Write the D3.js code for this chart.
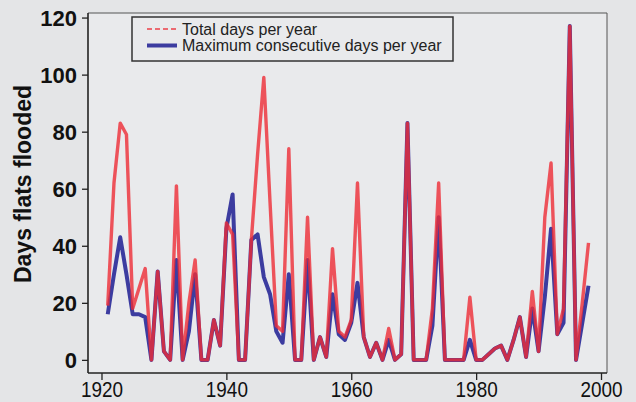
<!DOCTYPE html>
<html>
<head>
<meta charset="utf-8">
<script src="https://cdn.jsdelivr.net/npm/d3@7"></script>
<style>
  html, body { margin: 0; padding: 0; background: #e4e5e7; }
  svg { display: block; }
</style>
</head>
<body>
<svg id="chart" width="636" height="402"></svg>
<script>
const years = [1921,1922,1923,1924,1925,1926,1927,1928,1929,1930,
  1931,1932,1933,1934,1935,1936,1937,1938,1939,1940,
  1941,1942,1943,1944,1945,1946,1947,1948,1949,1950,
  1951,1952,1953,1954,1955,1956,1957,1958,1959,1960,
  1961,1962,1963,1964,1965,1966,1967,1968,1969,1970,
  1971,1972,1973,1974,1975,1976,1977,1978,1979,1980,
  1981,1982,1983,1984,1985,1986,1987,1988,1989,1990,
  1991,1992,1993,1994,1995,1996,1997,1998];

const totalDays = [19,62,83,79,18,25,32,0,31,3,
  0,61,0,20,35,0,0,14,5,48,
  44,0,0,42,72,99,55,12,10,74,
  0,0,50,0,8,1,39,10,8,14,
  62,8,1,6,0,11,0,2,83,0,
  0,0,18,62,0,0,0,0,22,0,
  0,2,4,5,0,7,15,1,24,3,
  50,69,9,18,117,0,20,41];

const maxConsecutive = [16,30,43,30,16,16,15,0,31,3,
  0,35,0,10,30,0,0,14,5,46,
  58,0,0,42,44,29,23,10,6,30,
  0,0,35,0,8,1,23,9,7,13,
  27,8,1,6,0,7,0,2,83,0,
  0,0,12,50,0,0,0,0,7,0,
  0,2,4,5,0,7,15,1,18,3,
  22,46,9,13,117,0,13,26];

const xTicks = [1920, 1940, 1960, 1980, 2000];
const yTicks = [0, 20, 40, 60, 80, 100, 120];
const seriesNames = ["Total days per year", "Maximum consecutive days per year"];
const yTitle = "Days flats flooded";

const svg = d3.select("#chart");
const L = 88, R = 607, T = 13, B = 373;
const FONT = "Liberation Sans, Arial, sans-serif";

const x = d3.scaleLinear().domain([1917.84, 2000.96]).range([L, R]);
const y = d3.scaleLinear().domain([-4.6, 121.6]).range([B, T]);

// plot background
svg.append("rect").attr("x", L).attr("y", T).attr("width", R - L).attr("height", B - T)
  .attr("fill", "#e9eaec");

// lines
const blueData = years.map((yr, i) => [yr, maxConsecutive[i]]);
const redData = years.map((yr, i) => [yr, totalDays[i]]);
const line = d3.line().x(d => x(d[0])).y(d => y(d[1]));

svg.append("path").datum(blueData).attr("d", line)
  .attr("fill", "none").attr("stroke", "#3c3ca0").attr("stroke-width", 4)
  .attr("stroke-linejoin", "round");
svg.append("path").datum(redData).attr("d", line)
  .attr("fill", "none").attr("stroke", "#ee2c36").attr("stroke-width", 3.4)
  .attr("stroke-opacity", 0.8).attr("stroke-linejoin", "round");

// frame
svg.append("line").attr("x1", L).attr("x2", R).attr("y1", T).attr("y2", T).attr("stroke", "#555").attr("stroke-width", 1);
svg.append("line").attr("x1", R).attr("x2", R).attr("y1", T).attr("y2", B).attr("stroke", "#555").attr("stroke-width", 1);
svg.append("line").attr("x1", L).attr("x2", R).attr("y1", B).attr("y2", B).attr("stroke", "#222").attr("stroke-width", 1.6);
svg.append("line").attr("x1", L).attr("x2", L).attr("y1", T).attr("y2", B).attr("stroke", "#222").attr("stroke-width", 1.6);

// y axis
const yAxis = svg.append("g").attr("transform", `translate(${L},0)`)
  .call(d3.axisLeft(y).tickValues(yTicks).tickSize(6).tickPadding(5).tickFormat(d3.format("d")));
yAxis.select(".domain").remove();
yAxis.selectAll("line").attr("stroke", "#222").attr("stroke-width", 1.3);
yAxis.selectAll("text").attr("font-family", FONT)
  .attr("font-size", 22).attr("font-weight", "bold").attr("fill", "#111").attr("dy", "0.36em");

// x axis
const xAxis = svg.append("g").attr("transform", `translate(0,${B})`)
  .call(d3.axisBottom(x).tickValues(xTicks).tickSize(7).tickFormat(d3.format("d")));
xAxis.select(".domain").remove();
xAxis.selectAll("line").attr("stroke", "#222").attr("stroke-width", 1.3);
xAxis.selectAll("text").attr("font-family", FONT)
  .attr("font-size", 22).attr("fill", "#111").attr("y", 24).attr("dy", 0)
  .attr("transform", "scale(0.86,1)");

// y title
svg.append("text").attr("transform", "translate(31,184) rotate(-90)")
  .attr("text-anchor", "middle").attr("font-family", FONT)
  .attr("font-size", 23).attr("font-weight", "bold").attr("fill", "#111").text(yTitle);

// legend
const lg = svg.append("g");
lg.append("rect").attr("x", 132).attr("y", 17).attr("width", 321).attr("height", 44)
  .attr("fill", "#e9eaec").attr("stroke", "#333").attr("stroke-width", 1.5);
lg.append("line").attr("x1", 147).attr("x2", 177).attr("y1", 29).attr("y2", 29)
  .attr("stroke", "#ec4048").attr("stroke-width", 1.6).attr("stroke-dasharray", "5,3");
lg.append("line").attr("x1", 147).attr("x2", 177).attr("y1", 45.5).attr("y2", 45.5)
  .attr("stroke", "#3c3ca0").attr("stroke-width", 4);
lg.selectAll("text.lt").data(seriesNames).enter().append("text")
  .attr("x", 182).attr("y", (d, i) => 34.5 + i * 16.5)
  .attr("font-family", FONT).attr("font-size", 16)
  .attr("fill", "#222").text(d => d);
</script>
</body>
</html>
